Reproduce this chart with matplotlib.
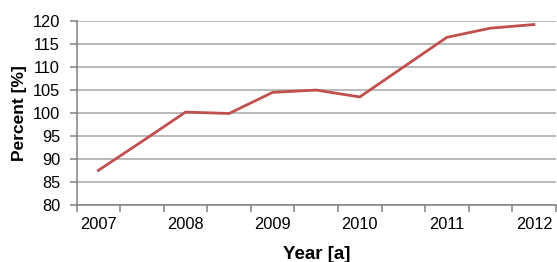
import numpy as np
import matplotlib.pyplot as plt

plt.rcParams['font.family'] = ['Liberation Sans', 'DejaVu Sans']

# half-year steps, labels every other step
year_labels = ['2007', '2008', '2009', '2010', '2011', '2012']
percent = [87.5, 93.8, 100.2, 99.9, 104.5, 105.0, 103.5, 110.0, 116.5, 118.5, 119.3]
n_slots = len(percent)

fig = plt.figure(figsize=(5.57, 2.62), dpi=100)
ax = fig.add_axes([0.1377, 0.2187, 0.86, 0.70])

x = np.arange(len(percent))
ax.plot(x, percent, color='#C0504D', linewidth=2.0, solid_joinstyle='miter', zorder=3)

ax.set_xlim(-0.5, n_slots - 0.5)
ax.set_ylim(80, 120)
ax.set_yticks(np.arange(80, 121, 5))

# boundary ticks, labels in between
ax.set_xticks(np.arange(-0.5, n_slots, 1.0))
ax.set_xticklabels([])
ax.set_xticks(np.arange(0, n_slots, 2), minor=True)
ax.set_xticklabels(year_labels, minor=True)
ax.tick_params(axis='x', which='major', length=5, color='#808080', width=1.1)
ax.tick_params(axis='x', which='minor', length=0, pad=9, labelsize=11.8)
ax.tick_params(axis='y', length=5, color='#808080', width=1.1, pad=7, labelsize=11.8)

ax.grid(axis='y', color='#a6a6a6', linewidth=1.1)
ax.set_axisbelow(True)
for s in ['top', 'right']:
    ax.spines[s].set_visible(False)
for s in ['left', 'bottom']:
    ax.spines[s].set_color('#808080')
    ax.spines[s].set_linewidth(1.1)

ax.set_xlabel('Year [a]', fontweight='bold', fontsize=13.5, labelpad=10)
ax.set_ylabel('Percent [%]', fontweight='bold', fontsize=12.5, labelpad=4)

fig.savefig('out.png', dpi=100)
